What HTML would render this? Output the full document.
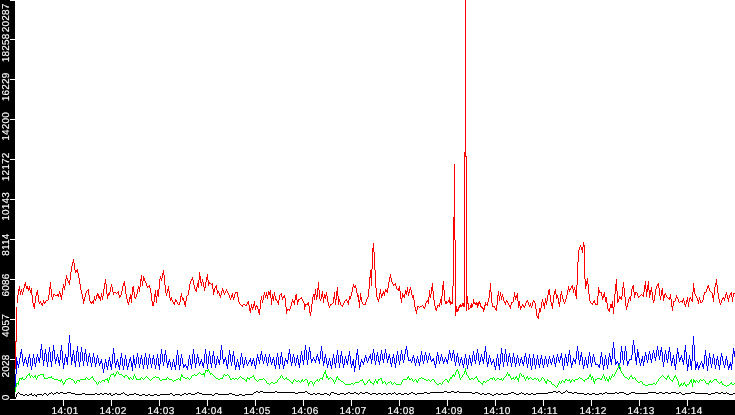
<!DOCTYPE html><html><head><meta charset="utf-8"><title>chart</title><style>
html,body{margin:0;padding:0;background:#fff;overflow:hidden}
svg{display:block}
text{font-family:"Liberation Sans",sans-serif;font-size:10px;fill:#fff;stroke:#fff;stroke-width:.15px;letter-spacing:.44px;text-rendering:geometricPrecision}
</style></head><body>
<svg width="735" height="415" viewBox="0 0 735 415">
<rect width="735" height="415" fill="#fff"/>
<g fill="none" stroke-width="1" shape-rendering="crispEdges">
<path stroke="#f00" d="M15.5 341V369M16.5 307V342M17.5 295V303M18.5 289V295M19.5 286V291M20.5 291V295M21.5 289V292M22.5 292V295M23.5 288V292M24.5 284V288M25.5 282V286M26.5 286V289M27.5 286V289M28.5 288V291M29.5 286V290M30.5 290V293M31.5 288V295M32.5 295V303M33.5 303V307M34.5 303V309M35.5 296V303M36.5 292V296M37.5 290V295M38.5 295V302M39.5 302V304M40.5 301V303M41.5 303V305M42.5 303V306M43.5 300V303M44.5 302V304M45.5 301V303M46.5 300V301M47.5 300V301M48.5 295V300M49.5 287V295M50.5 282V289M51.5 289V297M52.5 297V300M53.5 294V297M54.5 294V295M55.5 295V296M56.5 295V296M57.5 294V296M58.5 294V297M59.5 291V294M60.5 293V297M61.5 295V300M62.5 288V295M63.5 284V288M64.5 286V290M65.5 279V286M66.5 275V279M67.5 278V281M68.5 281V283M69.5 280V285M70.5 272V280M71.5 266V272M72.5 262V266M73.5 259V263M74.5 263V270M75.5 270V273M76.5 270V272M77.5 269V273M78.5 273V278M79.5 278V284M80.5 284V290M81.5 290V294M82.5 294V299M83.5 299V304M84.5 297V301M85.5 293V297M86.5 291V293M87.5 290V291M88.5 289V295M89.5 295V301M90.5 301V303M91.5 302V304M92.5 301V303M93.5 300V304M94.5 296V300M95.5 299V301M96.5 295V299M97.5 293V296M98.5 294V298M99.5 296V299M100.5 297V301M101.5 293V297M102.5 296V300M103.5 289V296M104.5 283V289M105.5 279V284M106.5 284V294M107.5 294V299M108.5 293V296M109.5 292V295M110.5 287V292M111.5 284V287M112.5 287V292M113.5 292V295M114.5 292V293M115.5 292V293M116.5 293V294M117.5 292V293M118.5 291V295M119.5 295V298M120.5 295V297M121.5 291V295M122.5 286V291M123.5 283V286M124.5 281V286M125.5 286V294M126.5 294V299M127.5 299V303M128.5 302V305M129.5 297V302M130.5 294V299M131.5 295V303M132.5 287V295M133.5 286V292M134.5 292V298M135.5 297V299M136.5 294V297M137.5 289V294M138.5 286V289M139.5 287V292M140.5 279V287M141.5 275V281M142.5 281V286M143.5 276V281M144.5 278V281M145.5 281V283M146.5 283V286M147.5 286V288M148.5 286V287M149.5 285V288M150.5 288V293M151.5 293V301M152.5 301V306M153.5 302V306M154.5 294V302M155.5 290V297M156.5 296V303M157.5 290V296M158.5 289V297M159.5 279V289M160.5 276V279M161.5 278V281M162.5 273V278M163.5 270V275M164.5 275V285M165.5 285V293M166.5 293V296M167.5 289V293M168.5 286V291M169.5 291V298M170.5 298V301M171.5 297V300M172.5 300V302M173.5 302V304M174.5 302V305M175.5 299V302M176.5 300V302M177.5 302V304M178.5 304V305M179.5 302V305M180.5 296V302M181.5 293V297M182.5 297V300M183.5 298V301M184.5 301V305M185.5 301V307M186.5 296V301M187.5 295V296M188.5 290V295M189.5 284V290M190.5 281V284M191.5 279V281M192.5 277V280M193.5 280V285M194.5 285V289M195.5 289V291M196.5 287V292M197.5 283V287M198.5 280V288M199.5 272V280M200.5 276V283M201.5 282V286M202.5 279V282M203.5 282V287M204.5 287V291M205.5 282V288M206.5 277V282M207.5 274V280M208.5 280V286M209.5 282V284M210.5 283V284M211.5 284V285M212.5 283V289M213.5 289V295M214.5 288V292M215.5 286V288M216.5 285V290M217.5 290V294M218.5 291V293M219.5 293V296M220.5 295V298M221.5 291V295M222.5 288V291M223.5 290V293M224.5 293V295M225.5 291V293M226.5 289V291M227.5 291V293M228.5 293V295M229.5 295V298M230.5 298V300M231.5 295V298M232.5 293V297M233.5 297V300M234.5 294V298M235.5 292V294M236.5 292V293M237.5 292V297M238.5 297V302M239.5 302V304M240.5 304V305M241.5 305V306M242.5 305V307M243.5 304V305M244.5 304V305M245.5 305V306M246.5 304V306M247.5 302V304M248.5 301V305M249.5 305V311M250.5 308V313M251.5 304V308M252.5 307V310M253.5 304V308M254.5 301V306M255.5 306V310M256.5 305V307M257.5 306V309M258.5 309V313M259.5 309V315M260.5 300V309M261.5 296V300M262.5 300V303M263.5 295V300M264.5 292V295M265.5 295V298M266.5 292V296M267.5 295V299M268.5 291V295M269.5 292V295M270.5 290V298M271.5 298V305M272.5 294V299M273.5 296V301M274.5 292V296M275.5 296V300M276.5 299V301M277.5 301V303M278.5 300V305M279.5 295V300M280.5 294V295M281.5 293V297M282.5 297V300M283.5 296V298M284.5 295V298M285.5 298V307M286.5 307V314M287.5 309V311M288.5 309V310M289.5 309V311M290.5 306V309M291.5 302V306M292.5 299V302M293.5 301V303M294.5 300V305M295.5 295V300M296.5 294V300M297.5 300V305M298.5 299V302M299.5 299V300M300.5 298V299M301.5 297V299M302.5 299V301M303.5 301V303M304.5 303V310M305.5 304V307M306.5 304V305M307.5 303V305M308.5 302V306M309.5 306V313M310.5 312V316M311.5 304V312M312.5 297V304M313.5 294V297M314.5 294V300M315.5 289V295M316.5 295V300M317.5 288V297M318.5 282V290M319.5 290V299M320.5 299V301M321.5 294V299M322.5 291V297M323.5 297V303M324.5 294V298M325.5 295V299M326.5 292V296M327.5 296V302M328.5 302V306M329.5 306V308M330.5 304V306M331.5 304V305M332.5 303V304M333.5 297V303M334.5 292V299M335.5 299V305M336.5 291V300M337.5 287V296M338.5 296V305M339.5 299V302M340.5 302V305M341.5 305V306M342.5 305V307M343.5 303V305M344.5 301V303M345.5 300V301M346.5 299V301M347.5 301V303M348.5 300V305M349.5 296V300M350.5 296V299M351.5 292V296M352.5 287V292M353.5 284V287M354.5 286V288M355.5 285V288M356.5 288V293M357.5 293V297M358.5 295V302M359.5 300V308M360.5 293V300M361.5 297V302M362.5 302V304M363.5 304V305M364.5 304V305M365.5 302V305M366.5 299V302M367.5 297V299M368.5 289V297M369.5 277V289M370.5 270V278M371.5 269V286M372.5 248V269M373.5 243V252M374.5 252V270M375.5 270V288M376.5 288V297M377.5 297V300M378.5 299V302M379.5 293V299M380.5 289V294M381.5 294V298M382.5 293V296M383.5 291V294M384.5 292V296M385.5 289V292M386.5 290V292M387.5 288V293M388.5 282V288M389.5 277V282M390.5 274V278M391.5 278V282M392.5 282V284M393.5 284V286M394.5 284V285M395.5 283V286M396.5 286V289M397.5 289V290M398.5 288V291M399.5 286V291M400.5 291V299M401.5 298V303M402.5 293V298M403.5 295V297M404.5 294V298M405.5 290V294M406.5 291V295M407.5 287V292M408.5 292V296M409.5 289V293M410.5 287V290M411.5 290V295M412.5 295V298M413.5 295V300M414.5 300V307M415.5 307V311M416.5 310V314M417.5 306V310M418.5 306V307M419.5 307V308M420.5 306V307M421.5 306V307M422.5 305V306M423.5 306V308M424.5 307V309M425.5 303V307M426.5 301V303M427.5 300V302M428.5 297V304M429.5 290V297M430.5 294V298M431.5 287V294M432.5 283V291M433.5 291V300M434.5 300V306M435.5 306V310M436.5 308V311M437.5 305V308M438.5 305V306M439.5 303V307M440.5 299V303M441.5 296V305M442.5 285V296M443.5 281V290M444.5 290V301M445.5 301V304M446.5 301V304M447.5 302V303M448.5 300V302M449.5 297V303M450.5 301V305M451.5 302V304M452.5 286V304M453.5 217V286M454.5 164V240M455.5 240V316M456.5 306V312M457.5 309V312M458.5 307V311M459.5 305V308M460.5 304V307M461.5 305V307M462.5 303V306M463.5 303V307M464.5 152V307M465.5 0V157M466.5 156V311M467.5 296V304M468.5 303V310M469.5 308V309M470.5 305V308M471.5 303V308M472.5 304V307M473.5 299V304M474.5 302V304M475.5 303V305M476.5 302V305M477.5 303V308M478.5 302V306M479.5 301V304M480.5 303V307M481.5 306V308M482.5 307V309M483.5 308V312M484.5 305V310M485.5 302V306M486.5 304V305M487.5 302V306M488.5 298V302M489.5 290V298M490.5 283V292M491.5 292V303M492.5 303V307M493.5 306V307M494.5 306V308M495.5 308V310M496.5 305V311M497.5 295V305M498.5 291V296M499.5 296V301M500.5 292V296M501.5 296V300M502.5 294V297M503.5 297V301M504.5 301V303M505.5 302V305M506.5 300V302M507.5 301V303M508.5 303V305M509.5 305V307M510.5 305V309M511.5 302V305M512.5 302V303M513.5 297V302M514.5 292V297M515.5 296V300M516.5 295V298M517.5 293V301M518.5 301V308M519.5 301V306M520.5 306V310M521.5 306V308M522.5 304V306M523.5 305V307M524.5 306V308M525.5 303V306M526.5 301V303M527.5 300V302M528.5 302V305M529.5 305V307M530.5 303V306M531.5 306V308M532.5 302V306M533.5 300V302M534.5 301V303M535.5 303V309M536.5 309V316M537.5 316V318M538.5 313V319M539.5 308V313M540.5 308V312M541.5 302V308M542.5 299V302M543.5 302V306M544.5 303V309M545.5 298V303M546.5 301V305M547.5 295V301M548.5 290V295M549.5 289V295M550.5 295V302M551.5 302V306M552.5 303V309M553.5 295V303M554.5 291V295M555.5 289V294M556.5 294V299M557.5 295V298M558.5 298V304M559.5 302V307M560.5 294V302M561.5 291V295M562.5 295V299M563.5 299V302M564.5 302V304M565.5 299V302M566.5 295V299M567.5 290V295M568.5 286V290M569.5 289V292M570.5 288V290M571.5 286V288M572.5 285V289M573.5 289V293M574.5 287V290M575.5 290V296M576.5 285V299M577.5 262V285M578.5 250V262M579.5 247V250M580.5 245V247M581.5 247V250M582.5 247V253M583.5 242V247M584.5 245V279M585.5 279V289M586.5 281V286M587.5 278V284M588.5 284V294M589.5 294V301M590.5 301V303M591.5 303V304M592.5 303V305M593.5 301V303M594.5 300V303M595.5 303V305M596.5 304V305M597.5 296V305M598.5 287V296M599.5 290V293M600.5 292V293M601.5 292V296M602.5 296V300M603.5 294V298M604.5 292V297M605.5 297V302M606.5 297V303M607.5 303V309M608.5 309V311M609.5 308V312M610.5 304V308M611.5 304V308M612.5 301V308M613.5 307V314M614.5 294V307M615.5 284V294M616.5 279V291M617.5 291V303M618.5 299V302M619.5 296V299M620.5 297V299M621.5 296V300M622.5 287V296M623.5 282V288M624.5 288V297M625.5 297V306M626.5 306V310M627.5 303V307M628.5 299V303M629.5 297V299M630.5 296V301M631.5 289V296M632.5 286V289M633.5 285V292M634.5 292V298M635.5 292V295M636.5 292V293M637.5 293V296M638.5 296V298M639.5 296V297M640.5 295V296M641.5 294V295M642.5 295V296M643.5 292V297M644.5 285V292M645.5 281V289M646.5 289V297M647.5 285V292M648.5 281V290M649.5 290V298M650.5 290V295M651.5 287V292M652.5 292V300M653.5 300V303M654.5 295V301M655.5 289V295M656.5 286V289M657.5 284V286M658.5 283V288M659.5 288V296M660.5 296V300M661.5 290V296M662.5 288V295M663.5 295V301M664.5 294V298M665.5 293V295M666.5 295V297M667.5 297V298M668.5 298V299M669.5 297V300M670.5 294V299M671.5 299V307M672.5 306V311M673.5 301V306M674.5 301V302M675.5 298V301M676.5 295V298M677.5 297V299M678.5 299V302M679.5 302V303M680.5 301V302M681.5 301V302M682.5 300V303M683.5 298V301M684.5 301V305M685.5 304V307M686.5 300V304M687.5 297V302M688.5 302V307M689.5 298V302M690.5 297V299M691.5 299V301M692.5 292V302M693.5 283V292M694.5 288V294M695.5 294V296M696.5 296V298M697.5 298V301M698.5 300V304M699.5 297V300M700.5 300V303M701.5 302V303M702.5 300V302M703.5 295V300M704.5 292V295M705.5 292V293M706.5 289V292M707.5 286V289M708.5 285V288M709.5 288V291M710.5 291V292M711.5 292V293M712.5 293V298M713.5 295V302M714.5 287V295M715.5 283V287M716.5 279V285M717.5 285V293M718.5 293V299M719.5 299V303M720.5 303V305M721.5 300V303M722.5 298V300M723.5 297V299M724.5 298V301M725.5 294V298M726.5 292V295M727.5 295V299M728.5 298V302M729.5 295V298M730.5 293V295M731.5 292V297M732.5 297V302M733.5 293V297M734.5 293V294"/>
<path stroke="#00f" d="M15.5 374V387M16.5 357V374M17.5 361V365M18.5 364V368M19.5 358V364M20.5 352V358M21.5 349V354M22.5 354V362M23.5 362V366M24.5 359V363M25.5 357V360M26.5 360V364M27.5 363V367M28.5 357V363M29.5 354V358M30.5 358V366M31.5 366V370M32.5 358V366M33.5 354V358M34.5 358V364M35.5 363V367M36.5 357V363M37.5 354V357M38.5 357V361M39.5 358V363M40.5 349V358M41.5 344V350M42.5 350V360M43.5 360V366M44.5 353V361M45.5 349V354M46.5 354V362M47.5 362V367M48.5 352V362M49.5 347V352M50.5 352V362M51.5 361V367M52.5 351V361M53.5 345V351M54.5 350V359M55.5 359V364M56.5 357V361M57.5 354V357M58.5 357V363M59.5 360V366M60.5 350V360M61.5 345V351M62.5 351V363M63.5 363V369M64.5 358V365M65.5 354V358M66.5 357V362M67.5 357V365M68.5 343V357M69.5 335V343M70.5 343V357M71.5 357V365M72.5 354V361M73.5 350V355M74.5 355V363M75.5 361V367M76.5 351V361M77.5 346V352M78.5 352V362M79.5 362V367M80.5 352V362M81.5 347V352M82.5 352V361M83.5 361V366M84.5 353V361M85.5 349V354M86.5 354V362M87.5 362V366M88.5 356V362M89.5 353V357M90.5 357V363M91.5 363V367M92.5 357V363M93.5 353V357M94.5 357V363M95.5 363V367M96.5 358V364M97.5 355V358M98.5 358V363M99.5 363V366M100.5 361V364M101.5 359V363M102.5 363V369M103.5 369V373M104.5 363V369M105.5 359V363M106.5 362V367M107.5 366V370M108.5 360V366M109.5 357V361M110.5 361V367M111.5 364V370M112.5 354V364M113.5 348V354M114.5 353V363M115.5 363V368M116.5 361V365M117.5 359V362M118.5 362V367M119.5 365V370M120.5 357V365M121.5 353V358M122.5 358V366M123.5 366V370M124.5 359V366M125.5 355V359M126.5 359V366M127.5 366V370M128.5 363V367M129.5 359V363M130.5 357V361M131.5 361V367M132.5 363V371M133.5 355V363M134.5 359V365M135.5 364V368M136.5 357V364M137.5 353V357M138.5 357V364M139.5 364V368M140.5 358V364M141.5 355V359M142.5 359V365M143.5 365V369M144.5 357V365M145.5 353V357M146.5 357V365M147.5 365V369M148.5 358V365M149.5 354V358M150.5 358V364M151.5 364V368M152.5 358V364M153.5 355V359M154.5 359V365M155.5 365V369M156.5 358V365M157.5 354V358M158.5 358V366M159.5 364V370M160.5 354V364M161.5 349V354M162.5 354V362M163.5 362V366M164.5 354V362M165.5 350V355M166.5 355V363M167.5 363V368M168.5 361V365M169.5 359V362M170.5 362V367M171.5 367V370M172.5 362V367M173.5 359V362M174.5 362V367M175.5 365V370M176.5 355V365M177.5 350V355M178.5 355V365M179.5 365V370M180.5 358V366M181.5 354V358M182.5 358V364M183.5 364V368M184.5 365V367M185.5 364V366M186.5 366V368M187.5 366V370M188.5 359V366M189.5 355V359M190.5 359V365M191.5 364V369M192.5 354V364M193.5 349V354M194.5 354V363M195.5 363V368M196.5 358V364M197.5 354V358M198.5 357V363M199.5 363V366M200.5 361V364M201.5 359V362M202.5 362V366M203.5 363V368M204.5 354V363M205.5 349V354M206.5 354V364M207.5 364V369M208.5 356V364M209.5 351V356M210.5 356V364M211.5 363V368M212.5 355V363M213.5 351V356M214.5 356V364M215.5 364V368M216.5 359V365M217.5 356V359M218.5 359V363M219.5 360V365M220.5 350V360M221.5 345V350M222.5 350V359M223.5 359V364M224.5 359V362M225.5 357V360M226.5 360V366M227.5 364V369M228.5 355V364M229.5 350V355M230.5 354V362M231.5 362V366M232.5 355V362M233.5 351V356M234.5 356V365M235.5 365V370M236.5 362V367M237.5 359V362M238.5 362V367M239.5 365V370M240.5 357V365M241.5 353V357M242.5 357V364M243.5 364V368M244.5 360V365M245.5 357V360M246.5 360V364M247.5 364V366M248.5 362V364M249.5 360V362M250.5 358V362M251.5 362V366M252.5 360V364M253.5 358V361M254.5 361V366M255.5 365V369M256.5 358V365M257.5 354V358M258.5 357V361M259.5 360V364M260.5 354V360M261.5 351V355M262.5 355V361M263.5 361V364M264.5 357V361M265.5 354V357M266.5 357V363M267.5 363V366M268.5 357V363M269.5 354V357M270.5 357V362M271.5 362V365M272.5 359V363M273.5 357V360M274.5 360V366M275.5 365V369M276.5 357V365M277.5 353V357M278.5 357V365M279.5 364V369M280.5 356V364M281.5 352V357M282.5 357V365M283.5 365V369M284.5 361V366M285.5 358V361M286.5 360V362M287.5 360V364M288.5 353V360M289.5 349V354M290.5 354V362M291.5 362V366M292.5 357V363M293.5 354V357M294.5 357V363M295.5 363V366M296.5 358V363M297.5 355V359M298.5 359V365M299.5 363V368M300.5 355V363M301.5 351V355M302.5 355V361M303.5 360V365M304.5 350V360M305.5 345V350M306.5 350V360M307.5 360V365M308.5 352V360M309.5 347V352M310.5 351V359M311.5 359V363M312.5 359V361M313.5 357V359M314.5 359V361M315.5 360V363M316.5 356V360M317.5 354V357M318.5 357V361M319.5 359V364M320.5 351V359M321.5 346V351M322.5 351V361M323.5 361V366M324.5 357V363M325.5 354V358M326.5 358V364M327.5 364V368M328.5 361V365M329.5 358V361M330.5 361V366M331.5 365V369M332.5 358V365M333.5 354V358M334.5 358V364M335.5 363V368M336.5 355V363M337.5 350V355M338.5 355V363M339.5 363V368M340.5 355V363M341.5 351V356M342.5 356V364M343.5 364V368M344.5 359V365M345.5 356V359M346.5 359V363M347.5 361V365M348.5 355V361M349.5 351V356M350.5 356V364M351.5 364V368M352.5 361V365M353.5 359V366M354.5 366V372M355.5 360V368M356.5 353V360M357.5 349V355M358.5 355V365M359.5 365V370M360.5 362V367M361.5 359V362M362.5 361V363M363.5 362V365M364.5 358V362M365.5 355V358M366.5 357V361M367.5 361V363M368.5 358V361M369.5 356V358M370.5 354V359M371.5 359V364M372.5 353V360M373.5 349V353M374.5 353V361M375.5 361V365M376.5 355V361M377.5 352V356M378.5 356V362M379.5 361V365M380.5 354V361M381.5 350V354M382.5 354V360M383.5 359V363M384.5 353V359M385.5 349V353M386.5 353V359M387.5 359V363M388.5 356V360M389.5 354V358M390.5 358V364M391.5 363V367M392.5 357V363M393.5 354V358M394.5 358V364M395.5 363V368M396.5 355V363M397.5 351V355M398.5 355V361M399.5 361V365M400.5 354V361M401.5 350V354M402.5 354V360M403.5 360V363M404.5 354V360M405.5 349V354M406.5 346V350M407.5 350V357M408.5 357V361M409.5 360V361M410.5 359V361M411.5 361V363M412.5 357V361M413.5 355V358M414.5 358V363M415.5 363V366M416.5 359V363M417.5 356V359M418.5 359V363M419.5 362V366M420.5 355V362M421.5 351V355M422.5 355V361M423.5 361V364M424.5 355V361M425.5 352V355M426.5 355V360M427.5 360V363M428.5 356V360M429.5 353V356M430.5 356V360M431.5 360V362M432.5 359V361M433.5 358V361M434.5 361V365M435.5 364V368M436.5 356V364M437.5 352V356M438.5 355V361M439.5 361V364M440.5 357V361M441.5 354V357M442.5 357V361M443.5 361V364M444.5 359V362M445.5 357V359M446.5 359V362M447.5 360V364M448.5 354V360M449.5 350V354M450.5 353V358M451.5 358V361M452.5 353V358M453.5 350V354M454.5 354V362M455.5 362V366M456.5 356V362M457.5 353V357M458.5 357V363M459.5 363V366M460.5 359V363M461.5 357V360M462.5 360V365M463.5 364V368M464.5 358V364M465.5 354V358M466.5 358V365M467.5 365V369M468.5 359V365M469.5 355V359M470.5 358V363M471.5 362V366M472.5 355V362M473.5 351V355M474.5 355V361M475.5 360V364M476.5 353V360M477.5 349V353M478.5 353V361M479.5 361V365M480.5 357V362M481.5 354V357M482.5 357V361M483.5 359V364M484.5 351V359M485.5 346V352M486.5 352V362M487.5 362V367M488.5 358V364M489.5 355V358M490.5 358V362M491.5 362V365M492.5 361V363M493.5 359V362M494.5 362V367M495.5 366V370M496.5 358V366M497.5 354V358M498.5 358V366M499.5 364V370M500.5 354V364M501.5 348V354M502.5 353V362M503.5 362V367M504.5 354V362M505.5 349V354M506.5 354V362M507.5 362V366M508.5 356V362M509.5 353V357M510.5 357V363M511.5 363V367M512.5 357V363M513.5 353V357M514.5 357V363M515.5 363V367M516.5 358V364M517.5 355V358M518.5 358V363M519.5 363V366M520.5 359V363M521.5 357V360M522.5 360V364M523.5 362V366M524.5 356V362M525.5 353V357M526.5 357V364M527.5 364V368M528.5 358V364M529.5 354V358M530.5 358V366M531.5 366V370M532.5 358V366M533.5 354V358M534.5 358V365M535.5 365V369M536.5 359V365M537.5 355V359M538.5 359V365M539.5 364V368M540.5 358V364M541.5 355V359M542.5 359V365M543.5 365V368M544.5 359V365M545.5 356V359M546.5 359V364M547.5 364V367M548.5 359V364M549.5 356V359M550.5 359V363M551.5 362V365M552.5 358V362M553.5 355V358M554.5 358V364M555.5 363V367M556.5 357V363M557.5 354V357M558.5 357V361M559.5 360V363M560.5 356V360M561.5 353V358M562.5 358V366M563.5 366V370M564.5 358V366M565.5 354V358M566.5 357V363M567.5 362V366M568.5 354V362M569.5 350V355M570.5 355V363M571.5 363V368M572.5 361V365M573.5 358V361M574.5 360V362M575.5 359V364M576.5 351V359M577.5 346V351M578.5 351V360M579.5 360V365M580.5 355V361M581.5 352V357M582.5 357V365M583.5 365V369M584.5 360V366M585.5 357V360M586.5 360V365M587.5 364V368M588.5 356V364M589.5 352V356M590.5 356V363M591.5 363V367M592.5 357V363M593.5 354V357M594.5 357V362M595.5 362V365M596.5 364V365M597.5 364V365M598.5 365V367M599.5 364V368M600.5 356V364M601.5 352V357M602.5 357V365M603.5 365V370M604.5 359V366M605.5 355V359M606.5 359V365M607.5 365V369M608.5 357V365M609.5 353V357M610.5 356V362M611.5 359V365M612.5 348V359M613.5 342V348M614.5 348V359M615.5 359V365M616.5 362V364M617.5 361V363M618.5 363V367M619.5 363V369M620.5 352V363M621.5 346V352M622.5 351V360M623.5 360V365M624.5 351V360M625.5 346V351M626.5 351V361M627.5 361V366M628.5 361V364M629.5 359V361M630.5 359V360M631.5 355V360M632.5 345V355M633.5 340V345M634.5 345V353M635.5 353V361M636.5 357V365M637.5 349V357M638.5 352V358M639.5 358V363M640.5 363V366M641.5 359V363M642.5 356V361M643.5 361V366M644.5 356V362M645.5 352V356M646.5 355V360M647.5 360V363M648.5 354V360M649.5 351V354M650.5 354V360M651.5 359V363M652.5 353V359M653.5 350V353M654.5 353V358M655.5 357V361M656.5 350V357M657.5 346V350M658.5 350V356M659.5 356V360M660.5 350V356M661.5 347V352M662.5 352V362M663.5 362V367M664.5 354V362M665.5 350V354M666.5 354V360M667.5 359V363M668.5 351V359M669.5 347V352M670.5 352V361M671.5 361V366M672.5 358V363M673.5 355V359M674.5 359V366M675.5 364V370M676.5 354V364M677.5 348V354M678.5 352V358M679.5 358V362M680.5 357V360M681.5 355V358M682.5 358V362M683.5 360V365M684.5 350V360M685.5 345V352M686.5 352V364M687.5 364V371M688.5 359V367M689.5 355V359M690.5 359V366M691.5 361V370M692.5 345V361M693.5 336V345M694.5 345V361M695.5 361V370M696.5 364V368M697.5 362V366M698.5 366V370M699.5 365V368M700.5 363V365M701.5 361V363M702.5 363V367M703.5 364V369M704.5 355V364M705.5 350V356M706.5 356V366M707.5 366V371M708.5 358V366M709.5 353V358M710.5 357V364M711.5 364V368M712.5 358V364M713.5 354V358M714.5 358V365M715.5 365V369M716.5 359V365M717.5 356V360M718.5 360V366M719.5 365V370M720.5 357V365M721.5 353V357M722.5 356V361M723.5 361V365M724.5 365V368M725.5 359V365M726.5 356V360M727.5 360V366M728.5 366V370M729.5 364V368M730.5 362V366M731.5 364V370M732.5 354V364M733.5 348V354M734.5 351V357"/>
<path stroke="#0f0" d="M15.5 387V392M16.5 383V387M17.5 383V384M18.5 381V385M19.5 378V381M20.5 378V379M21.5 378V380M22.5 377V379M23.5 379V380M24.5 379V380M25.5 378V379M26.5 376V378M27.5 375V376M28.5 374V375M29.5 373V376M30.5 376V378M31.5 375V376M32.5 376V377M33.5 377V378M34.5 376V377M35.5 375V378M36.5 378V380M37.5 376V378M38.5 375V376M39.5 375V376M40.5 374V375M41.5 374V375M42.5 374V375M43.5 374V377M44.5 377V379M45.5 378V379M46.5 378V379M47.5 378V379M48.5 377V378M49.5 377V378M50.5 377V378M51.5 376V378M52.5 378V379M53.5 378V379M54.5 379V380M55.5 379V380M56.5 379V380M57.5 379V380M58.5 380V381M59.5 380V381M60.5 380V382M61.5 379V381M62.5 381V383M63.5 383V385M64.5 382V384M65.5 380V382M66.5 379V380M67.5 379V380M68.5 378V379M69.5 378V379M70.5 378V379M71.5 379V380M72.5 379V380M73.5 380V381M74.5 381V383M75.5 383V384M76.5 381V383M77.5 380V381M78.5 380V381M79.5 380V382M80.5 379V380M81.5 379V380M82.5 379V380M83.5 379V380M84.5 379V380M85.5 378V380M86.5 377V378M87.5 378V379M88.5 379V380M89.5 379V380M90.5 378V379M91.5 377V378M92.5 376V378M93.5 378V380M94.5 380V381M95.5 381V382M96.5 382V384M97.5 384V385M98.5 382V384M99.5 381V382M100.5 382V383M101.5 381V382M102.5 380V381M103.5 380V381M104.5 380V382M105.5 379V380M106.5 379V380M107.5 378V381M108.5 380V383M109.5 377V380M110.5 375V377M111.5 374V375M112.5 374V375M113.5 373V375M114.5 375V377M115.5 374V376M116.5 372V374M117.5 371V372M118.5 372V374M119.5 374V375M120.5 374V375M121.5 374V375M122.5 375V376M123.5 376V377M124.5 376V378M125.5 375V376M126.5 375V376M127.5 376V377M128.5 377V379M129.5 378V380M130.5 377V378M131.5 378V379M132.5 379V380M133.5 376V379M134.5 374V376M135.5 376V378M136.5 378V380M137.5 379V380M138.5 379V380M139.5 379V380M140.5 378V380M141.5 377V378M142.5 378V379M143.5 379V380M144.5 378V379M145.5 377V378M146.5 376V377M147.5 377V378M148.5 378V379M149.5 379V380M150.5 380V381M151.5 379V380M152.5 378V379M153.5 377V378M154.5 377V378M155.5 376V377M156.5 377V378M157.5 377V378M158.5 377V378M159.5 378V380M160.5 380V381M161.5 380V381M162.5 379V380M163.5 379V380M164.5 379V380M165.5 379V380M166.5 378V380M167.5 377V378M168.5 378V379M169.5 379V380M170.5 379V380M171.5 379V380M172.5 380V381M173.5 381V382M174.5 380V381M175.5 380V381M176.5 379V380M177.5 379V380M178.5 378V379M179.5 379V380M180.5 377V381M181.5 374V377M182.5 375V377M183.5 377V378M184.5 377V378M185.5 378V379M186.5 378V379M187.5 377V378M188.5 378V379M189.5 379V380M190.5 378V379M191.5 376V378M192.5 375V376M193.5 375V376M194.5 374V375M195.5 375V376M196.5 375V376M197.5 374V375M198.5 373V374M199.5 372V373M200.5 373V374M201.5 374V375M202.5 374V375M203.5 373V375M204.5 373V377M205.5 370V373M206.5 370V371M207.5 370V372M208.5 369V371M209.5 371V373M210.5 373V375M211.5 373V374M212.5 374V375M213.5 375V376M214.5 376V377M215.5 377V378M216.5 378V379M217.5 378V379M218.5 379V380M219.5 379V380M220.5 378V379M221.5 378V379M222.5 377V379M223.5 375V377M224.5 374V375M225.5 375V376M226.5 375V376M227.5 374V375M228.5 375V376M229.5 376V378M230.5 378V380M231.5 379V380M232.5 378V379M233.5 378V379M234.5 379V380M235.5 378V379M236.5 378V379M237.5 379V380M238.5 378V379M239.5 377V378M240.5 376V377M241.5 377V378M242.5 378V379M243.5 378V379M244.5 379V380M245.5 380V381M246.5 379V382M247.5 377V379M248.5 378V379M249.5 378V380M250.5 377V378M251.5 377V378M252.5 376V377M253.5 375V377M254.5 377V379M255.5 379V380M256.5 380V381M257.5 381V382M258.5 380V381M259.5 379V380M260.5 379V380M261.5 379V380M262.5 379V380M263.5 378V379M264.5 379V380M265.5 380V381M266.5 381V383M267.5 383V384M268.5 383V384M269.5 384V385M270.5 383V384M271.5 382V383M272.5 382V383M273.5 383V384M274.5 383V384M275.5 382V383M276.5 382V383M277.5 380V382M278.5 379V380M279.5 378V379M280.5 376V378M281.5 375V376M282.5 376V378M283.5 378V379M284.5 379V380M285.5 378V379M286.5 377V379M287.5 379V380M288.5 379V380M289.5 380V381M290.5 381V382M291.5 382V383M292.5 382V384M293.5 380V382M294.5 379V380M295.5 380V381M296.5 381V382M297.5 381V382M298.5 380V381M299.5 381V382M300.5 382V383M301.5 380V382M302.5 379V381M303.5 381V382M304.5 380V381M305.5 379V380M306.5 379V380M307.5 380V383M308.5 383V386M309.5 382V384M310.5 381V382M311.5 381V382M312.5 382V384M313.5 384V386M314.5 382V384M315.5 381V382M316.5 380V381M317.5 379V381M318.5 381V382M319.5 379V381M320.5 378V379M321.5 378V379M322.5 377V380M323.5 374V377M324.5 372V374M325.5 370V374M326.5 374V378M327.5 376V378M328.5 378V380M329.5 378V379M330.5 377V378M331.5 378V379M332.5 379V380M333.5 380V382M334.5 382V384M335.5 380V382M336.5 377V380M337.5 376V378M338.5 378V380M339.5 379V380M340.5 380V381M341.5 381V382M342.5 381V382M343.5 382V383M344.5 383V384M345.5 384V385M346.5 384V385M347.5 384V385M348.5 384V385M349.5 384V385M350.5 384V385M351.5 383V384M352.5 383V384M353.5 384V385M354.5 383V384M355.5 382V383M356.5 382V383M357.5 382V383M358.5 382V383M359.5 381V382M360.5 380V381M361.5 380V381M362.5 379V381M363.5 381V383M364.5 383V385M365.5 384V385M366.5 383V384M367.5 381V383M368.5 380V381M369.5 379V381M370.5 381V383M371.5 382V383M372.5 383V384M373.5 383V385M374.5 381V383M375.5 379V381M376.5 381V383M377.5 381V384M378.5 379V381M379.5 379V380M380.5 378V379M381.5 378V381M382.5 381V384M383.5 382V383M384.5 381V382M385.5 382V384M386.5 384V385M387.5 383V384M388.5 382V383M389.5 382V383M390.5 381V382M391.5 382V384M392.5 384V385M393.5 383V384M394.5 382V383M395.5 383V384M396.5 384V385M397.5 384V385M398.5 384V385M399.5 384V385M400.5 384V385M401.5 382V384M402.5 380V382M403.5 379V380M404.5 379V380M405.5 379V380M406.5 379V380M407.5 377V379M408.5 376V378M409.5 378V380M410.5 379V380M411.5 378V379M412.5 379V381M413.5 381V382M414.5 380V381M415.5 379V380M416.5 380V382M417.5 381V383M418.5 379V381M419.5 378V379M420.5 378V379M421.5 377V378M422.5 378V379M423.5 378V379M424.5 379V380M425.5 379V380M426.5 380V381M427.5 380V381M428.5 379V380M429.5 380V381M430.5 381V382M431.5 380V381M432.5 379V380M433.5 379V380M434.5 380V382M435.5 382V383M436.5 383V384M437.5 384V385M438.5 384V385M439.5 383V384M440.5 383V384M441.5 384V385M442.5 382V384M443.5 381V382M444.5 380V381M445.5 379V380M446.5 379V380M447.5 380V382M448.5 381V383M449.5 379V381M450.5 377V379M451.5 377V379M452.5 375V377M453.5 374V376M454.5 375V377M455.5 372V375M456.5 370V372M457.5 369V371M458.5 371V374M459.5 374V378M460.5 378V380M461.5 377V378M462.5 375V377M463.5 374V375M464.5 371V374M465.5 368V372M466.5 372V375M467.5 375V376M468.5 376V378M469.5 378V380M470.5 379V380M471.5 378V379M472.5 378V379M473.5 379V380M474.5 378V379M475.5 377V378M476.5 376V378M477.5 378V380M478.5 380V382M479.5 381V382M480.5 382V383M481.5 383V384M482.5 383V385M483.5 381V383M484.5 381V382M485.5 382V383M486.5 381V382M487.5 380V381M488.5 380V381M489.5 379V380M490.5 378V379M491.5 378V379M492.5 378V380M493.5 377V378M494.5 378V380M495.5 380V381M496.5 379V380M497.5 378V379M498.5 378V379M499.5 379V380M500.5 379V380M501.5 378V380M502.5 380V381M503.5 378V380M504.5 377V378M505.5 376V377M506.5 374V376M507.5 372V374M508.5 374V376M509.5 374V376M510.5 376V378M511.5 378V380M512.5 378V379M513.5 377V379M514.5 379V380M515.5 377V379M516.5 376V378M517.5 378V380M518.5 378V382M519.5 374V378M520.5 373V374M521.5 374V376M522.5 376V377M523.5 375V377M524.5 377V379M525.5 379V381M526.5 377V379M527.5 376V378M528.5 378V380M529.5 378V379M530.5 377V378M531.5 378V379M532.5 379V380M533.5 379V380M534.5 378V379M535.5 378V379M536.5 379V380M537.5 378V379M538.5 379V381M539.5 381V382M540.5 380V381M541.5 378V380M542.5 377V378M543.5 378V379M544.5 379V381M545.5 381V383M546.5 381V384M547.5 379V381M548.5 380V381M549.5 381V382M550.5 381V382M551.5 382V384M552.5 384V385M553.5 384V385M554.5 385V386M555.5 386V387M556.5 387V388M557.5 385V387M558.5 383V385M559.5 381V383M560.5 383V384M561.5 381V383M562.5 380V381M563.5 381V382M564.5 381V383M565.5 379V381M566.5 379V380M567.5 380V381M568.5 380V381M569.5 379V381M570.5 381V383M571.5 380V382M572.5 379V380M573.5 380V381M574.5 380V382M575.5 379V380M576.5 379V380M577.5 379V380M578.5 378V379M579.5 377V378M580.5 378V379M581.5 378V379M582.5 379V380M583.5 380V381M584.5 380V382M585.5 379V380M586.5 379V380M587.5 378V379M588.5 377V379M589.5 375V377M590.5 374V377M591.5 377V380M592.5 376V378M593.5 378V382M594.5 381V384M595.5 379V381M596.5 379V380M597.5 378V379M598.5 378V379M599.5 378V379M600.5 379V380M601.5 378V380M602.5 376V378M603.5 374V376M604.5 376V379M605.5 379V381M606.5 377V379M607.5 379V381M608.5 379V382M609.5 376V379M610.5 378V380M611.5 376V378M612.5 374V376M613.5 376V377M614.5 374V376M615.5 372V374M616.5 370V372M617.5 368V370M618.5 366V368M619.5 364V367M620.5 367V371M621.5 371V373M622.5 373V374M623.5 374V376M624.5 376V377M625.5 377V378M626.5 377V378M627.5 378V379M628.5 379V380M629.5 377V379M630.5 376V377M631.5 375V377M632.5 377V379M633.5 378V379M634.5 377V378M635.5 378V380M636.5 380V381M637.5 381V382M638.5 382V383M639.5 382V383M640.5 381V382M641.5 381V382M642.5 382V384M643.5 384V385M644.5 384V385M645.5 385V386M646.5 385V386M647.5 385V386M648.5 384V385M649.5 384V385M650.5 384V385M651.5 384V385M652.5 384V385M653.5 383V384M654.5 383V384M655.5 384V385M656.5 382V384M657.5 381V382M658.5 379V381M659.5 378V379M660.5 377V378M661.5 376V377M662.5 375V376M663.5 376V377M664.5 377V378M665.5 378V379M666.5 378V380M667.5 376V378M668.5 375V377M669.5 377V379M670.5 379V380M671.5 380V381M672.5 380V382M673.5 378V380M674.5 376V378M675.5 375V377M676.5 377V379M677.5 379V381M678.5 381V385M679.5 385V387M680.5 384V386M681.5 383V385M682.5 385V386M683.5 383V385M684.5 382V384M685.5 384V386M686.5 385V387M687.5 384V385M688.5 384V385M689.5 382V384M690.5 380V382M691.5 379V383M692.5 383V387M693.5 379V383M694.5 380V382M695.5 381V383M696.5 380V381M697.5 381V382M698.5 382V383M699.5 380V382M700.5 379V380M701.5 380V381M702.5 380V381M703.5 379V380M704.5 380V381M705.5 381V383M706.5 383V384M707.5 383V384M708.5 383V385M709.5 381V383M710.5 380V382M711.5 382V383M712.5 381V382M713.5 380V381M714.5 379V380M715.5 379V380M716.5 379V381M717.5 381V382M718.5 382V383M719.5 383V384M720.5 382V383M721.5 381V383M722.5 383V385M723.5 384V385M724.5 385V386M725.5 385V386M726.5 386V387M727.5 385V386M728.5 385V386M729.5 384V385M730.5 383V384M731.5 382V384M732.5 384V385M733.5 384V385M734.5 383V384"/>
<path stroke="#000" d="M15.5 397V399M16.5 394V397M17.5 393V394M18.5 392V393M19.5 393V394M20.5 394V395M21.5 394V395M22.5 394V395M23.5 395V396M24.5 395V396M25.5 394V395M26.5 394V395M27.5 395V396M28.5 395V396M29.5 394V395M30.5 394V395M31.5 393V395M32.5 395V396M33.5 395V396M34.5 394V395M35.5 395V396M36.5 395V397M37.5 394V395M38.5 394V395M39.5 394V395M40.5 394V395M41.5 394V395M42.5 395V396M43.5 394V395M44.5 393V394M45.5 393V394M46.5 394V395M47.5 395V396M48.5 394V395M49.5 393V394M50.5 393V394M51.5 392V393M52.5 393V394M53.5 394V395M54.5 393V394M55.5 393V394M56.5 392V393M57.5 392V393M58.5 393V394M59.5 393V394M60.5 392V393M61.5 392V393M62.5 392V393M63.5 393V394M64.5 393V394M65.5 393V394M66.5 393V394M67.5 392V393M68.5 392V393M69.5 392V393M70.5 392V393M71.5 393V394M72.5 393V394M73.5 393V394M74.5 393V394M75.5 394V395M76.5 394V395M77.5 394V395M78.5 394V395M79.5 394V395M80.5 394V395M81.5 394V395M82.5 393V394M83.5 393V394M84.5 393V394M85.5 394V395M86.5 394V395M87.5 394V395M88.5 394V395M89.5 394V395M90.5 394V395M91.5 394V395M92.5 394V395M93.5 394V395M94.5 394V395M95.5 393V394M96.5 393V394M97.5 394V395M98.5 394V395M99.5 394V395M100.5 393V394M101.5 393V394M102.5 394V395M103.5 394V395M104.5 393V394M105.5 393V394M106.5 393V394M107.5 394V395M108.5 394V395M109.5 393V394M110.5 393V395M111.5 395V396M112.5 395V396M113.5 394V395M114.5 394V395M115.5 393V394M116.5 393V394M117.5 394V395M118.5 394V395M119.5 394V395M120.5 394V395M121.5 393V394M122.5 393V394M123.5 392V393M124.5 393V394M125.5 394V395M126.5 394V395M127.5 395V396M128.5 395V396M129.5 394V395M130.5 394V395M131.5 394V395M132.5 394V395M133.5 394V395M134.5 393V394M135.5 393V394M136.5 394V395M137.5 394V395M138.5 394V395M139.5 395V396M140.5 395V396M141.5 395V396M142.5 394V395M143.5 394V395M144.5 394V395M145.5 395V396M146.5 395V396M147.5 395V396M148.5 394V395M149.5 394V395M150.5 395V396M151.5 395V396M152.5 395V396M153.5 395V396M154.5 394V395M155.5 394V395M156.5 394V395M157.5 395V396M158.5 395V396M159.5 395V396M160.5 394V395M161.5 394V395M162.5 394V395M163.5 394V395M164.5 394V395M165.5 394V395M166.5 394V395M167.5 394V395M168.5 394V395M169.5 394V395M170.5 393V394M171.5 393V394M172.5 394V395M173.5 395V396M174.5 395V396M175.5 394V395M176.5 394V395M177.5 394V395M178.5 394V395M179.5 394V395M180.5 395V396M181.5 395V396M182.5 394V395M183.5 394V395M184.5 393V394M185.5 393V394M186.5 394V395M187.5 394V395M188.5 393V394M189.5 393V394M190.5 393V394M191.5 394V395M192.5 394V395M193.5 394V395M194.5 394V395M195.5 393V394M196.5 393V394M197.5 392V393M198.5 392V393M199.5 393V394M200.5 393V394M201.5 393V394M202.5 394V395M203.5 394V395M204.5 394V395M205.5 394V395M206.5 394V395M207.5 394V395M208.5 394V395M209.5 394V395M210.5 394V395M211.5 394V395M212.5 395V396M213.5 395V396M214.5 394V395M215.5 393V394M216.5 393V394M217.5 393V394M218.5 394V395M219.5 394V395M220.5 394V395M221.5 394V395M222.5 394V395M223.5 394V395M224.5 394V395M225.5 394V395M226.5 394V395M227.5 394V395M228.5 394V395M229.5 393V394M230.5 393V394M231.5 393V394M232.5 394V395M233.5 394V395M234.5 394V395M235.5 395V396M236.5 395V396M237.5 395V396M238.5 395V396M239.5 394V395M240.5 394V395M241.5 394V395M242.5 395V396M243.5 395V396M244.5 395V396M245.5 394V395M246.5 394V395M247.5 394V395M248.5 394V395M249.5 394V395M250.5 394V395M251.5 394V395M252.5 394V395M253.5 393V394M254.5 392V393M255.5 392V393M256.5 391V392M257.5 391V392M258.5 392V393M259.5 392V393M260.5 391V392M261.5 391V392M262.5 391V392M263.5 392V393M264.5 392V393M265.5 392V393M266.5 392V393M267.5 392V393M268.5 392V393M269.5 392V393M270.5 392V393M271.5 392V393M272.5 392V393M273.5 392V393M274.5 392V393M275.5 391V392M276.5 391V392M277.5 392V393M278.5 392V393M279.5 392V393M280.5 392V393M281.5 392V393M282.5 392V393M283.5 392V393M284.5 392V393M285.5 392V393M286.5 392V393M287.5 392V393M288.5 392V393M289.5 392V393M290.5 392V393M291.5 392V393M292.5 392V393M293.5 392V393M294.5 392V393M295.5 393V394M296.5 393V394M297.5 393V394M298.5 392V393M299.5 392V393M300.5 392V393M301.5 392V393M302.5 392V393M303.5 392V393M304.5 392V393M305.5 391V392M306.5 391V392M307.5 392V393M308.5 393V394M309.5 393V394M310.5 394V395M311.5 394V395M312.5 394V395M313.5 393V394M314.5 393V394M315.5 394V395M316.5 394V395M317.5 393V394M318.5 393V394M319.5 393V394M320.5 394V395M321.5 394V395M322.5 394V395M323.5 394V395M324.5 393V394M325.5 393V394M326.5 393V394M327.5 394V395M328.5 394V395M329.5 395V396M330.5 393V395M331.5 392V393M332.5 392V393M333.5 392V393M334.5 393V394M335.5 393V394M336.5 393V394M337.5 394V395M338.5 394V395M339.5 394V395M340.5 393V394M341.5 393V394M342.5 393V394M343.5 393V394M344.5 394V395M345.5 394V395M346.5 393V394M347.5 393V394M348.5 392V393M349.5 392V393M350.5 393V394M351.5 393V394M352.5 393V394M353.5 393V394M354.5 392V393M355.5 392V393M356.5 393V394M357.5 393V394M358.5 394V395M359.5 393V394M360.5 392V393M361.5 392V393M362.5 393V394M363.5 393V394M364.5 393V394M365.5 392V393M366.5 392V393M367.5 392V393M368.5 393V394M369.5 393V394M370.5 394V395M371.5 394V395M372.5 393V394M373.5 393V394M374.5 393V394M375.5 393V394M376.5 394V395M377.5 394V395M378.5 393V394M379.5 393V394M380.5 393V394M381.5 394V395M382.5 394V395M383.5 393V394M384.5 393V394M385.5 393V394M386.5 394V395M387.5 394V395M388.5 393V394M389.5 393V394M390.5 393V394M391.5 394V395M392.5 393V394M393.5 393V394M394.5 392V393M395.5 393V394M396.5 394V395M397.5 394V395M398.5 393V394M399.5 393V394M400.5 393V394M401.5 394V395M402.5 394V395M403.5 394V395M404.5 393V394M405.5 393V394M406.5 393V394M407.5 394V395M408.5 394V395M409.5 393V394M410.5 393V394M411.5 392V393M412.5 392V393M413.5 393V394M414.5 393V394M415.5 394V395M416.5 394V395M417.5 393V394M418.5 393V394M419.5 393V394M420.5 393V394M421.5 393V394M422.5 393V394M423.5 393V394M424.5 392V393M425.5 392V393M426.5 392V393M427.5 393V394M428.5 393V394M429.5 393V394M430.5 392V393M431.5 392V393M432.5 392V393M433.5 392V393M434.5 392V393M435.5 392V393M436.5 392V393M437.5 392V393M438.5 392V393M439.5 392V393M440.5 392V393M441.5 392V393M442.5 392V393M443.5 392V393M444.5 391V392M445.5 391V392M446.5 391V392M447.5 392V393M448.5 392V393M449.5 392V393M450.5 392V393M451.5 391V392M452.5 391V392M453.5 391V392M454.5 392V393M455.5 392V393M456.5 392V393M457.5 391V392M458.5 391V392M459.5 392V393M460.5 392V393M461.5 392V393M462.5 392V393M463.5 392V393M464.5 392V393M465.5 392V393M466.5 392V393M467.5 392V393M468.5 392V393M469.5 392V393M470.5 392V393M471.5 392V393M472.5 393V394M473.5 393V394M474.5 393V394M475.5 392V393M476.5 392V393M477.5 392V393M478.5 393V394M479.5 393V394M480.5 394V395M481.5 394V395M482.5 393V394M483.5 393V394M484.5 394V395M485.5 394V395M486.5 394V395M487.5 393V394M488.5 393V394M489.5 393V394M490.5 394V395M491.5 394V395M492.5 395V396M493.5 395V396M494.5 394V395M495.5 394V395M496.5 393V394M497.5 393V394M498.5 394V395M499.5 394V395M500.5 394V395M501.5 393V394M502.5 393V394M503.5 394V395M504.5 394V395M505.5 394V395M506.5 394V395M507.5 394V395M508.5 393V394M509.5 393V394M510.5 393V394M511.5 392V393M512.5 392V393M513.5 392V393M514.5 393V394M515.5 393V394M516.5 394V395M517.5 394V395M518.5 394V395M519.5 393V394M520.5 393V394M521.5 392V393M522.5 393V394M523.5 393V394M524.5 394V395M525.5 394V395M526.5 393V394M527.5 393V394M528.5 394V395M529.5 394V395M530.5 394V395M531.5 393V394M532.5 393V394M533.5 394V395M534.5 394V395M535.5 394V395M536.5 393V394M537.5 393V394M538.5 393V394M539.5 393V394M540.5 393V394M541.5 393V394M542.5 393V394M543.5 393V394M544.5 393V394M545.5 393V394M546.5 393V394M547.5 393V394M548.5 392V393M549.5 392V393M550.5 392V393M551.5 392V393M552.5 392V393M553.5 391V392M554.5 391V392M555.5 391V392M556.5 392V393M557.5 392V393M558.5 391V392M559.5 391V392M560.5 392V393M561.5 393V394M562.5 393V394M563.5 392V393M564.5 392V393M565.5 391V392M566.5 390V391M567.5 391V392M568.5 392V393M569.5 392V393M570.5 392V393M571.5 392V393M572.5 393V394M573.5 393V394M574.5 392V393M575.5 392V393M576.5 392V393M577.5 393V394M578.5 393V394M579.5 393V394M580.5 393V394M581.5 393V394M582.5 393V394M583.5 393V394M584.5 394V395M585.5 394V395M586.5 394V395M587.5 393V394M588.5 393V394M589.5 394V395M590.5 394V395M591.5 394V395M592.5 393V394M593.5 393V394M594.5 393V394M595.5 394V395M596.5 394V395M597.5 394V395M598.5 394V395M599.5 393V394M600.5 393V394M601.5 393V394M602.5 394V395M603.5 393V394M604.5 393V394M605.5 392V393M606.5 392V393M607.5 393V394M608.5 393V394M609.5 393V394M610.5 393V394M611.5 393V394M612.5 393V394M613.5 393V394M614.5 393V394M615.5 392V393M616.5 392V393M617.5 393V394M618.5 393V394M619.5 392V393M620.5 392V393M621.5 392V393M622.5 392V393M623.5 392V393M624.5 393V394M625.5 393V394M626.5 394V395M627.5 394V395M628.5 394V395M629.5 393V394M630.5 393V394M631.5 392V393M632.5 392V393M633.5 392V393M634.5 392V393M635.5 393V394M636.5 393V394M637.5 393V394M638.5 393V394M639.5 393V394M640.5 393V394M641.5 393V394M642.5 393V394M643.5 393V394M644.5 393V394M645.5 393V394M646.5 393V394M647.5 393V394M648.5 392V393M649.5 392V393M650.5 392V393M651.5 392V393M652.5 392V393M653.5 392V393M654.5 392V393M655.5 392V393M656.5 393V394M657.5 393V394M658.5 393V394M659.5 392V393M660.5 392V393M661.5 392V393M662.5 393V394M663.5 393V394M664.5 393V394M665.5 392V393M666.5 392V393M667.5 392V393M668.5 393V394M669.5 393V394M670.5 393V394M671.5 392V393M672.5 392V393M673.5 392V393M674.5 392V393M675.5 392V393M676.5 393V394M677.5 393V394M678.5 393V394M679.5 392V393M680.5 392V393M681.5 393V394M682.5 394V395M683.5 394V395M684.5 394V395M685.5 393V394M686.5 393V394M687.5 393V394M688.5 393V394M689.5 393V394M690.5 393V394M691.5 392V393M692.5 392V393M693.5 392V393M694.5 392V393M695.5 393V394M696.5 393V394M697.5 393V394M698.5 393V394M699.5 393V394M700.5 393V394M701.5 393V394M702.5 393V394M703.5 393V394M704.5 393V394M705.5 393V394M706.5 393V394M707.5 393V394M708.5 394V395M709.5 394V395M710.5 394V395M711.5 393V394M712.5 393V394M713.5 393V394M714.5 393V394M715.5 392V393M716.5 392V393M717.5 392V393M718.5 393V394M719.5 393V394M720.5 393V394M721.5 392V393M722.5 392V393M723.5 393V394M724.5 393V394M725.5 393V394M726.5 392V393M727.5 393V394M728.5 393V394M729.5 394V395M730.5 394V395M731.5 394V395M732.5 394V395M733.5 393V394M734.5 393V394"/>
</g>
<rect x="0" y="0" width="15" height="415" fill="#000"/>
<rect x="0" y="400" width="735" height="15" fill="#000"/>
<path d="M10 0.5H15M10 39.5H15M10 79.5H15M10 119.5H15M10 159.5H15M10 199.5H15M10 239.5H15M10 279.5H15M10 319.5H15M10 359.5H15M10 399.5H15M63.5 400V406M111.5 400V406M159.5 400V406M207.5 400V406M255.5 400V406M303.5 400V406M351.5 400V406M399.5 400V406M447.5 400V406M495.5 400V406M543.5 400V406M591.5 400V406M639.5 400V406M687.5 400V406" stroke="#fff" stroke-width="1" fill="none" shape-rendering="crispEdges"/>
<g opacity="0.999">
<text x="51.5" y="414">14:01</text>
<text x="99.5" y="414">14:02</text>
<text x="147.5" y="414">14:03</text>
<text x="195.5" y="414">14:04</text>
<text x="243.5" y="414">14:05</text>
<text x="291.5" y="414">14:06</text>
<text x="339.5" y="414">14:07</text>
<text x="387.5" y="414">14:08</text>
<text x="435.5" y="414">14:09</text>
<text x="483.5" y="414">14:10</text>
<text x="531.5" y="414">14:11</text>
<text x="579.5" y="414">14:12</text>
<text x="627.5" y="414">14:13</text>
<text x="675.5" y="414">14:14</text>
<text transform="translate(9 3.5) rotate(-90)" text-anchor="end" style="letter-spacing:.2px">20287</text>
<text transform="translate(9 33.5) rotate(-90)" text-anchor="end" style="letter-spacing:.2px">18258</text>
<text transform="translate(9 72.5) rotate(-90)" text-anchor="end" style="letter-spacing:.2px">16229</text>
<text transform="translate(9 112.0) rotate(-90)" text-anchor="end" style="letter-spacing:.2px">14200</text>
<text transform="translate(9 152.5) rotate(-90)" text-anchor="end" style="letter-spacing:.2px">12172</text>
<text transform="translate(9 192.0) rotate(-90)" text-anchor="end" style="letter-spacing:.2px">10143</text>
<text transform="translate(9 233.5) rotate(-90)" text-anchor="end" style="letter-spacing:.2px">8114</text>
<text transform="translate(9 273.5) rotate(-90)" text-anchor="end" style="letter-spacing:.2px">6086</text>
<text transform="translate(9 314.0) rotate(-90)" text-anchor="end" style="letter-spacing:.2px">4057</text>
<text transform="translate(9 354.5) rotate(-90)" text-anchor="end" style="letter-spacing:.2px">2028</text>
<text transform="translate(9 394.5) rotate(-90)" text-anchor="end" style="letter-spacing:.2px">0</text>
</g>
</svg></body></html>
